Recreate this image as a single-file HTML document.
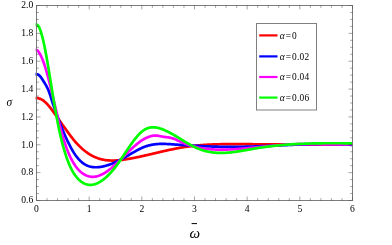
<!DOCTYPE html>
<html><head><meta charset="utf-8"><title>plot</title>
<style>
html,body{margin:0;padding:0;background:#fff;}
.ls{font-family:"Liberation Serif",serif;}
body{width:392px;height:245px;overflow:hidden;position:relative;font-family:"Liberation Serif",serif;}
</style></head><body>
<svg width="392" height="245" viewBox="0 0 392 245" style="position:absolute;left:0;top:0;will-change:transform;opacity:0.999">
<path d="M35.60,98.10 L36.50,98.10 L37.13,98.12 L37.77,98.18 L38.40,98.29 L39.03,98.44 L39.67,98.63 L40.30,98.86 L40.93,99.14 L41.57,99.46 L42.20,99.82 L42.83,100.22 L43.47,100.67 L44.10,101.16 L44.73,101.69 L45.37,102.25 L46.00,102.86 L46.63,103.50 L47.27,104.17 L47.90,104.87 L48.53,105.59 L49.17,106.35 L49.80,107.13 L50.43,107.92 L51.07,108.74 L51.70,109.58 L52.33,110.43 L52.96,111.29 L53.60,112.17 L54.23,113.05 L54.86,113.94 L55.50,114.84 L56.13,115.74 L56.76,116.63 L57.40,117.53 L58.03,118.43 L58.66,119.32 L59.30,120.22 L59.93,121.11 L60.56,122.01 L61.20,122.90 L61.83,123.79 L62.46,124.68 L63.10,125.57 L63.73,126.46 L64.36,127.35 L65.00,128.24 L65.63,129.12 L66.26,130.01 L66.90,130.89 L67.53,131.77 L68.16,132.64 L68.80,133.51 L69.43,134.37 L70.06,135.22 L70.70,136.06 L71.33,136.89 L71.96,137.70 L72.60,138.50 L73.23,139.29 L73.86,140.06 L74.50,140.81 L75.13,141.55 L75.76,142.27 L76.40,142.98 L77.03,143.67 L77.66,144.34 L78.30,145.00 L78.93,145.65 L79.56,146.28 L80.20,146.89 L80.83,147.49 L81.46,148.08 L82.10,148.65 L82.73,149.20 L83.36,149.74 L83.99,150.27 L84.63,150.78 L85.26,151.27 L85.89,151.76 L86.53,152.22 L87.16,152.68 L87.79,153.12 L88.43,153.54 L89.06,153.95 L89.69,154.35 L90.33,154.73 L90.96,155.10 L91.59,155.46 L92.23,155.80 L92.86,156.13 L93.49,156.44 L94.13,156.74 L94.76,157.03 L95.39,157.30 L96.03,157.56 L96.66,157.81 L97.29,158.05 L97.93,158.27 L98.56,158.49 L99.19,158.69 L99.83,158.87 L100.46,159.05 L101.09,159.22 L101.73,159.37 L102.36,159.52 L102.99,159.65 L103.63,159.77 L104.26,159.89 L104.89,159.99 L105.53,160.08 L106.16,160.17 L106.79,160.24 L107.43,160.31 L108.06,160.37 L108.69,160.42 L109.33,160.46 L109.96,160.49 L110.59,160.52 L111.23,160.53 L111.86,160.54 L112.49,160.54 L113.13,160.54 L113.76,160.53 L114.39,160.51 L115.03,160.49 L115.66,160.46 L116.29,160.42 L116.92,160.38 L117.56,160.33 L118.19,160.28 L118.82,160.22 L119.46,160.16 L120.09,160.09 L120.72,160.02 L121.36,159.95 L121.99,159.87 L122.62,159.79 L123.26,159.70 L123.89,159.61 L124.52,159.52 L125.16,159.42 L125.79,159.33 L126.42,159.23 L127.06,159.12 L127.69,159.02 L128.32,158.91 L128.96,158.81 L129.59,158.70 L130.22,158.58 L130.86,158.47 L131.49,158.35 L132.12,158.24 L132.76,158.12 L133.39,158.00 L134.02,157.87 L134.66,157.75 L135.29,157.62 L135.92,157.50 L136.56,157.37 L137.19,157.24 L137.82,157.10 L138.46,156.97 L139.09,156.84 L139.72,156.70 L140.36,156.57 L140.99,156.43 L141.62,156.29 L142.26,156.15 L142.89,156.01 L143.52,155.87 L144.16,155.73 L144.79,155.58 L145.42,155.44 L146.06,155.29 L146.69,155.15 L147.32,155.00 L147.95,154.86 L148.59,154.71 L149.22,154.56 L149.85,154.41 L150.49,154.26 L151.12,154.12 L151.75,153.97 L152.39,153.82 L153.02,153.67 L153.65,153.52 L154.29,153.37 L154.92,153.22 L155.55,153.07 L156.19,152.92 L156.82,152.77 L157.45,152.62 L158.09,152.47 L158.72,152.32 L159.35,152.17 L159.99,152.02 L160.62,151.88 L161.25,151.73 L161.89,151.58 L162.52,151.44 L163.15,151.29 L163.79,151.14 L164.42,151.00 L165.05,150.86 L165.69,150.71 L166.32,150.57 L166.95,150.43 L167.59,150.29 L168.22,150.15 L168.85,150.01 L169.49,149.87 L170.12,149.74 L170.75,149.60 L171.39,149.47 L172.02,149.34 L172.65,149.21 L173.29,149.08 L173.92,148.95 L174.55,148.82 L175.19,148.69 L175.82,148.57 L176.45,148.45 L177.09,148.33 L177.72,148.21 L178.35,148.09 L178.98,147.98 L179.62,147.86 L180.25,147.75 L180.88,147.64 L181.52,147.53 L182.15,147.43 L182.78,147.32 L183.42,147.22 L184.05,147.12 L184.68,147.02 L185.32,146.93 L185.95,146.84 L186.58,146.74 L187.22,146.65 L187.85,146.57 L188.48,146.48 L189.12,146.40 L189.75,146.32 L190.38,146.24 L191.02,146.16 L191.65,146.08 L192.28,146.01 L192.92,145.94 L193.55,145.86 L194.18,145.80 L194.82,145.73 L195.45,145.66 L196.08,145.60 L196.72,145.54 L197.35,145.48 L197.98,145.42 L198.62,145.36 L199.25,145.31 L199.88,145.25 L200.52,145.20 L201.15,145.15 L201.78,145.10 L202.42,145.05 L203.05,145.00 L203.68,144.96 L204.32,144.91 L204.95,144.87 L205.58,144.83 L206.22,144.79 L206.85,144.75 L207.48,144.72 L208.12,144.68 L208.75,144.65 L209.38,144.61 L210.02,144.58 L210.65,144.55 L211.28,144.52 L211.91,144.50 L212.55,144.47 L213.18,144.44 L213.81,144.42 L214.45,144.39 L215.08,144.37 L215.71,144.35 L216.35,144.33 L216.98,144.31 L217.61,144.29 L218.25,144.27 L218.88,144.26 L219.51,144.24 L220.15,144.23 L220.78,144.21 L221.41,144.20 L222.05,144.19 L222.68,144.18 L223.31,144.17 L223.95,144.16 L224.58,144.15 L225.21,144.14 L225.85,144.13 L226.48,144.13 L227.11,144.12 L227.75,144.12 L228.38,144.11 L229.01,144.11 L229.65,144.11 L230.28,144.10 L230.91,144.10 L231.55,144.10 L232.18,144.10 L232.81,144.10 L233.45,144.10 L234.08,144.10 L234.71,144.10 L235.35,144.10 L235.98,144.10 L236.61,144.10 L237.25,144.11 L237.88,144.11 L238.51,144.11 L239.15,144.11 L239.78,144.12 L240.41,144.12 L241.05,144.13 L241.68,144.13 L242.31,144.14 L242.94,144.14 L243.58,144.15 L244.21,144.15 L244.84,144.16 L245.48,144.16 L246.11,144.17 L246.74,144.17 L247.38,144.18 L248.01,144.18 L248.64,144.19 L249.28,144.19 L249.91,144.20 L250.54,144.20 L251.18,144.21 L251.81,144.21 L252.44,144.22 L253.08,144.23 L253.71,144.23 L254.34,144.24 L254.98,144.24 L255.61,144.25 L256.24,144.25 L256.88,144.26 L257.51,144.26 L258.14,144.27 L258.78,144.27 L259.41,144.28 L260.04,144.28 L260.68,144.29 L261.31,144.29 L261.94,144.30 L262.58,144.30 L263.21,144.31 L263.84,144.31 L264.48,144.32 L265.11,144.32 L265.74,144.32 L266.38,144.33 L267.01,144.33 L267.64,144.34 L268.28,144.34 L268.91,144.35 L269.54,144.35 L270.18,144.36 L270.81,144.36 L271.44,144.37 L272.08,144.37 L272.71,144.37 L273.34,144.38 L273.97,144.38 L274.61,144.39 L275.24,144.39 L275.87,144.40 L276.51,144.40 L277.14,144.40 L277.77,144.41 L278.41,144.41 L279.04,144.42 L279.67,144.42 L280.31,144.42 L280.94,144.43 L281.57,144.43 L282.21,144.44 L282.84,144.44 L283.47,144.44 L284.11,144.45 L284.74,144.45 L285.37,144.46 L286.01,144.46 L286.64,144.46 L287.27,144.47 L287.91,144.47 L288.54,144.47 L289.17,144.48 L289.81,144.48 L290.44,144.49 L291.07,144.49 L291.71,144.49 L292.34,144.50 L292.97,144.50 L293.61,144.50 L294.24,144.51 L294.87,144.51 L295.51,144.51 L296.14,144.52 L296.77,144.52 L297.41,144.52 L298.04,144.53 L298.67,144.53 L299.31,144.53 L299.94,144.54 L300.57,144.54 L301.21,144.54 L301.84,144.55 L302.47,144.55 L303.11,144.55 L303.74,144.55 L304.37,144.56 L305.01,144.56 L305.64,144.56 L306.27,144.57 L306.90,144.57 L307.54,144.57 L308.17,144.58 L308.80,144.58 L309.44,144.58 L310.07,144.58 L310.70,144.59 L311.34,144.59 L311.97,144.59 L312.60,144.59 L313.24,144.60 L313.87,144.60 L314.50,144.60 L315.14,144.60 L315.77,144.61 L316.40,144.61 L317.04,144.61 L317.67,144.61 L318.30,144.62 L318.94,144.62 L319.57,144.62 L320.20,144.62 L320.84,144.63 L321.47,144.63 L322.10,144.63 L322.74,144.63 L323.37,144.63 L324.00,144.64 L324.64,144.64 L325.27,144.64 L325.90,144.64 L326.54,144.64 L327.17,144.65 L327.80,144.65 L328.44,144.65 L329.07,144.65 L329.70,144.65 L330.34,144.66 L330.97,144.66 L331.60,144.66 L332.24,144.66 L332.87,144.66 L333.50,144.66 L334.14,144.67 L334.77,144.67 L335.40,144.67 L336.04,144.67 L336.67,144.67 L337.30,144.67 L337.93,144.68 L338.57,144.68 L339.20,144.68 L339.83,144.68 L340.47,144.68 L341.10,144.68 L341.73,144.68 L342.37,144.68 L343.00,144.69 L343.63,144.69 L344.27,144.69 L344.90,144.69 L345.53,144.69 L346.17,144.69 L346.80,144.69 L347.43,144.69 L348.07,144.70 L348.70,144.70 L349.33,144.70 L349.97,144.70 L350.60,144.70 L351.23,144.70 L351.87,144.70 L352.50,144.70" fill="none" stroke="#ff0000" stroke-width="2.7" stroke-linejoin="round" stroke-linecap="butt"/>
<path d="M35.50,74.13 L36.40,74.13 L37.03,74.20 L37.67,74.40 L38.30,74.72 L38.93,75.17 L39.57,75.73 L40.20,76.42 L40.83,77.20 L41.47,78.06 L42.10,78.99 L42.73,79.97 L43.37,80.98 L44.00,82.01 L44.64,83.04 L45.27,84.08 L45.90,85.16 L46.54,86.29 L47.17,87.52 L47.80,88.85 L48.44,90.32 L49.07,91.95 L49.70,93.73 L50.34,95.62 L50.97,97.59 L51.60,99.58 L52.24,101.55 L52.87,103.48 L53.50,105.37 L54.14,107.22 L54.77,109.04 L55.40,110.83 L56.04,112.59 L56.67,114.34 L57.30,116.06 L57.94,117.77 L58.57,119.46 L59.20,121.13 L59.84,122.78 L60.47,124.42 L61.11,126.03 L61.74,127.62 L62.37,129.19 L63.01,130.74 L63.64,132.26 L64.27,133.75 L64.91,135.22 L65.54,136.67 L66.17,138.08 L66.81,139.47 L67.44,140.83 L68.07,142.16 L68.71,143.46 L69.34,144.72 L69.97,145.95 L70.61,147.15 L71.24,148.32 L71.87,149.45 L72.51,150.55 L73.14,151.60 L73.77,152.62 L74.41,153.61 L75.04,154.55 L75.67,155.45 L76.31,156.31 L76.94,157.13 L77.58,157.92 L78.21,158.66 L78.84,159.37 L79.48,160.04 L80.11,160.67 L80.74,161.27 L81.38,161.84 L82.01,162.37 L82.64,162.87 L83.28,163.34 L83.91,163.77 L84.54,164.18 L85.18,164.55 L85.81,164.90 L86.44,165.22 L87.08,165.52 L87.71,165.79 L88.34,166.03 L88.98,166.25 L89.61,166.44 L90.24,166.61 L90.88,166.76 L91.51,166.89 L92.15,167.00 L92.78,167.09 L93.41,167.16 L94.05,167.21 L94.68,167.24 L95.31,167.26 L95.95,167.26 L96.58,167.25 L97.21,167.23 L97.85,167.19 L98.48,167.14 L99.11,167.08 L99.75,167.00 L100.38,166.92 L101.01,166.82 L101.65,166.72 L102.28,166.60 L102.91,166.47 L103.55,166.33 L104.18,166.19 L104.81,166.03 L105.45,165.86 L106.08,165.69 L106.71,165.50 L107.35,165.31 L107.98,165.11 L108.62,164.90 L109.25,164.68 L109.88,164.45 L110.52,164.21 L111.15,163.97 L111.78,163.72 L112.42,163.47 L113.05,163.20 L113.68,162.93 L114.32,162.65 L114.95,162.37 L115.58,162.08 L116.22,161.79 L116.85,161.49 L117.48,161.18 L118.12,160.87 L118.75,160.55 L119.38,160.23 L120.02,159.91 L120.65,159.58 L121.28,159.24 L121.92,158.90 L122.55,158.56 L123.18,158.21 L123.82,157.87 L124.45,157.51 L125.09,157.16 L125.72,156.80 L126.35,156.44 L126.99,156.08 L127.62,155.72 L128.25,155.35 L128.89,154.98 L129.52,154.61 L130.15,154.25 L130.79,153.88 L131.42,153.51 L132.05,153.14 L132.69,152.78 L133.32,152.42 L133.95,152.06 L134.59,151.70 L135.22,151.34 L135.85,150.99 L136.49,150.65 L137.12,150.31 L137.75,149.97 L138.39,149.64 L139.02,149.32 L139.66,149.00 L140.29,148.69 L140.92,148.39 L141.56,148.10 L142.19,147.81 L142.82,147.54 L143.46,147.27 L144.09,147.01 L144.72,146.77 L145.36,146.53 L145.99,146.31 L146.62,146.10 L147.26,145.90 L147.89,145.71 L148.52,145.53 L149.16,145.36 L149.79,145.21 L150.42,145.06 L151.06,144.93 L151.69,144.80 L152.32,144.69 L152.96,144.58 L153.59,144.48 L154.22,144.39 L154.86,144.31 L155.49,144.24 L156.13,144.17 L156.76,144.11 L157.39,144.06 L158.03,144.02 L158.66,143.98 L159.29,143.95 L159.93,143.93 L160.56,143.91 L161.19,143.90 L161.83,143.89 L162.46,143.89 L163.09,143.90 L163.73,143.90 L164.36,143.92 L164.99,143.93 L165.63,143.95 L166.26,143.98 L166.89,144.00 L167.53,144.03 L168.16,144.07 L168.79,144.10 L169.43,144.14 L170.06,144.18 L170.69,144.22 L171.33,144.26 L171.96,144.30 L172.60,144.35 L173.23,144.39 L173.86,144.44 L174.50,144.48 L175.13,144.53 L175.76,144.57 L176.40,144.62 L177.03,144.66 L177.66,144.70 L178.30,144.75 L178.93,144.79 L179.56,144.83 L180.20,144.88 L180.83,144.92 L181.46,144.96 L182.10,145.00 L182.73,145.04 L183.36,145.08 L184.00,145.13 L184.63,145.17 L185.26,145.21 L185.90,145.25 L186.53,145.29 L187.17,145.33 L187.80,145.37 L188.43,145.40 L189.07,145.44 L189.70,145.48 L190.33,145.52 L190.97,145.56 L191.60,145.59 L192.23,145.63 L192.87,145.67 L193.50,145.70 L194.13,145.74 L194.77,145.77 L195.40,145.81 L196.03,145.84 L196.67,145.87 L197.30,145.91 L197.93,145.94 L198.57,145.97 L199.20,146.01 L199.83,146.04 L200.47,146.07 L201.10,146.10 L201.73,146.13 L202.37,146.16 L203.00,146.19 L203.64,146.22 L204.27,146.24 L204.90,146.27 L205.54,146.30 L206.17,146.33 L206.80,146.35 L207.44,146.38 L208.07,146.40 L208.70,146.43 L209.34,146.45 L209.97,146.47 L210.60,146.50 L211.24,146.52 L211.87,146.54 L212.50,146.56 L213.14,146.58 L213.77,146.60 L214.40,146.62 L215.04,146.64 L215.67,146.66 L216.30,146.68 L216.94,146.69 L217.57,146.71 L218.21,146.72 L218.84,146.74 L219.47,146.75 L220.11,146.77 L220.74,146.78 L221.37,146.79 L222.01,146.80 L222.64,146.82 L223.27,146.83 L223.91,146.83 L224.54,146.84 L225.17,146.85 L225.81,146.86 L226.44,146.87 L227.07,146.87 L227.71,146.88 L228.34,146.88 L228.97,146.88 L229.61,146.89 L230.24,146.89 L230.87,146.89 L231.51,146.89 L232.14,146.89 L232.77,146.89 L233.41,146.89 L234.04,146.89 L234.68,146.88 L235.31,146.88 L235.94,146.87 L236.58,146.87 L237.21,146.86 L237.84,146.85 L238.48,146.85 L239.11,146.84 L239.74,146.83 L240.38,146.82 L241.01,146.81 L241.64,146.80 L242.28,146.79 L242.91,146.77 L243.54,146.76 L244.18,146.75 L244.81,146.73 L245.44,146.72 L246.08,146.70 L246.71,146.69 L247.34,146.67 L247.98,146.66 L248.61,146.64 L249.24,146.62 L249.88,146.60 L250.51,146.58 L251.15,146.56 L251.78,146.54 L252.41,146.52 L253.05,146.50 L253.68,146.48 L254.31,146.46 L254.95,146.44 L255.58,146.42 L256.21,146.39 L256.85,146.37 L257.48,146.35 L258.11,146.32 L258.75,146.30 L259.38,146.27 L260.01,146.25 L260.65,146.22 L261.28,146.20 L261.91,146.17 L262.55,146.15 L263.18,146.12 L263.81,146.09 L264.45,146.07 L265.08,146.04 L265.72,146.01 L266.35,145.98 L266.98,145.96 L267.62,145.93 L268.25,145.90 L268.88,145.87 L269.52,145.84 L270.15,145.82 L270.78,145.79 L271.42,145.76 L272.05,145.73 L272.68,145.70 L273.32,145.67 L273.95,145.64 L274.58,145.61 L275.22,145.58 L275.85,145.55 L276.48,145.52 L277.12,145.49 L277.75,145.47 L278.38,145.44 L279.02,145.41 L279.65,145.38 L280.28,145.35 L280.92,145.32 L281.55,145.29 L282.19,145.26 L282.82,145.23 L283.45,145.20 L284.09,145.17 L284.72,145.14 L285.35,145.11 L285.99,145.09 L286.62,145.06 L287.25,145.03 L287.89,145.00 L288.52,144.97 L289.15,144.94 L289.79,144.92 L290.42,144.89 L291.05,144.86 L291.69,144.83 L292.32,144.81 L292.95,144.78 L293.59,144.75 L294.22,144.73 L294.85,144.70 L295.49,144.68 L296.12,144.65 L296.75,144.63 L297.39,144.60 L298.02,144.58 L298.66,144.55 L299.29,144.53 L299.92,144.51 L300.56,144.48 L301.19,144.46 L301.82,144.44 L302.46,144.42 L303.09,144.40 L303.72,144.38 L304.36,144.36 L304.99,144.34 L305.62,144.32 L306.26,144.30 L306.89,144.28 L307.52,144.26 L308.16,144.24 L308.79,144.23 L309.42,144.21 L310.06,144.19 L310.69,144.18 L311.32,144.16 L311.96,144.15 L312.59,144.14 L313.23,144.12 L313.86,144.11 L314.49,144.10 L315.13,144.09 L315.76,144.08 L316.39,144.07 L317.03,144.06 L317.66,144.05 L318.29,144.04 L318.93,144.03 L319.56,144.03 L320.19,144.02 L320.83,144.02 L321.46,144.01 L322.09,144.01 L322.73,144.01 L323.36,144.01 L323.99,144.00 L324.63,144.00 L325.26,144.00 L325.89,144.01 L326.53,144.01 L327.16,144.01 L327.79,144.01 L328.43,144.02 L329.06,144.02 L329.70,144.03 L330.33,144.04 L330.96,144.05 L331.60,144.05 L332.23,144.06 L332.86,144.08 L333.50,144.09 L334.13,144.10 L334.76,144.11 L335.40,144.13 L336.03,144.14 L336.66,144.16 L337.30,144.18 L337.93,144.20 L338.56,144.22 L339.20,144.24 L339.83,144.26 L340.46,144.28 L341.10,144.31 L341.73,144.33 L342.36,144.36 L343.00,144.39 L343.63,144.41 L344.26,144.44 L344.90,144.47 L345.53,144.51 L346.17,144.54 L346.80,144.57 L347.43,144.61 L348.07,144.65 L348.70,144.68 L349.33,144.72 L349.97,144.76 L350.60,144.80 L351.23,144.85 L351.87,144.89 L352.50,144.94" fill="none" stroke="#0000ff" stroke-width="2.7" stroke-linejoin="round" stroke-linecap="butt"/>
<path d="M35.60,49.91 L36.50,49.91 L37.13,50.17 L37.77,50.78 L38.40,51.55 L39.03,52.44 L39.67,53.45 L40.30,54.59 L40.93,55.84 L41.57,57.20 L42.20,58.67 L42.83,60.26 L43.47,61.94 L44.10,63.73 L44.73,65.63 L45.37,67.61 L46.00,69.69 L46.63,71.87 L47.27,74.13 L47.90,76.46 L48.53,78.87 L49.17,81.34 L49.80,83.87 L50.43,86.45 L51.07,89.07 L51.70,91.72 L52.33,94.40 L52.96,97.10 L53.60,99.82 L54.23,102.54 L54.86,105.26 L55.50,107.98 L56.13,110.69 L56.76,113.37 L57.40,116.03 L58.03,118.66 L58.66,121.25 L59.30,123.79 L59.93,126.28 L60.56,128.71 L61.20,131.07 L61.83,133.36 L62.46,135.58 L63.10,137.71 L63.73,139.77 L64.36,141.75 L65.00,143.66 L65.63,145.50 L66.26,147.27 L66.90,148.97 L67.53,150.60 L68.16,152.17 L68.80,153.67 L69.43,155.11 L70.06,156.49 L70.70,157.80 L71.33,159.06 L71.96,160.27 L72.60,161.41 L73.23,162.51 L73.86,163.55 L74.50,164.54 L75.13,165.48 L75.76,166.37 L76.40,167.22 L77.03,168.02 L77.66,168.78 L78.30,169.49 L78.93,170.17 L79.56,170.81 L80.20,171.41 L80.83,171.97 L81.46,172.50 L82.10,172.99 L82.73,173.46 L83.36,173.89 L83.99,174.29 L84.63,174.65 L85.26,174.99 L85.89,175.30 L86.53,175.58 L87.16,175.83 L87.79,176.04 L88.43,176.24 L89.06,176.40 L89.69,176.54 L90.33,176.65 L90.96,176.73 L91.59,176.79 L92.23,176.82 L92.86,176.82 L93.49,176.80 L94.13,176.76 L94.76,176.70 L95.39,176.61 L96.03,176.49 L96.66,176.36 L97.29,176.20 L97.93,176.03 L98.56,175.83 L99.19,175.61 L99.83,175.37 L100.46,175.11 L101.09,174.84 L101.73,174.54 L102.36,174.23 L102.99,173.90 L103.63,173.55 L104.26,173.18 L104.89,172.80 L105.53,172.40 L106.16,171.99 L106.79,171.56 L107.43,171.12 L108.06,170.67 L108.69,170.20 L109.33,169.71 L109.96,169.22 L110.59,168.71 L111.23,168.20 L111.86,167.67 L112.49,167.13 L113.13,166.58 L113.76,166.02 L114.39,165.46 L115.03,164.88 L115.66,164.30 L116.29,163.71 L116.92,163.11 L117.56,162.51 L118.19,161.91 L118.82,161.29 L119.46,160.68 L120.09,160.06 L120.72,159.43 L121.36,158.81 L121.99,158.18 L122.62,157.55 L123.26,156.92 L123.89,156.29 L124.52,155.66 L125.16,155.02 L125.79,154.39 L126.42,153.76 L127.06,153.14 L127.69,152.51 L128.32,151.89 L128.96,151.28 L129.59,150.66 L130.22,150.05 L130.86,149.45 L131.49,148.85 L132.12,148.26 L132.76,147.68 L133.39,147.10 L134.02,146.54 L134.66,145.98 L135.29,145.43 L135.92,144.88 L136.56,144.35 L137.19,143.83 L137.82,143.32 L138.46,142.83 L139.09,142.34 L139.72,141.87 L140.36,141.41 L140.99,140.97 L141.62,140.54 L142.26,140.12 L142.89,139.72 L143.52,139.34 L144.16,138.97 L144.79,138.62 L145.42,138.29 L146.06,137.97 L146.69,137.67 L147.32,137.39 L147.95,137.13 L148.59,136.89 L149.22,136.66 L149.85,136.46 L150.49,136.28 L151.12,136.11 L151.75,135.97 L152.39,135.85 L153.02,135.75 L153.65,135.68 L154.29,135.62 L154.92,135.59 L155.55,135.58 L156.19,135.60 L156.82,135.64 L157.45,135.70 L158.09,135.79 L158.72,135.90 L159.35,136.02 L159.99,136.15 L160.62,136.29 L161.25,136.42 L161.89,136.55 L162.52,136.67 L163.15,136.77 L163.79,136.86 L164.42,136.94 L165.05,137.02 L165.69,137.09 L166.32,137.15 L166.95,137.22 L167.59,137.30 L168.22,137.38 L168.85,137.47 L169.49,137.58 L170.12,137.70 L170.75,137.85 L171.39,138.01 L172.02,138.20 L172.65,138.40 L173.29,138.61 L173.92,138.84 L174.55,139.08 L175.19,139.33 L175.82,139.59 L176.45,139.86 L177.09,140.14 L177.72,140.42 L178.35,140.71 L178.98,140.99 L179.62,141.28 L180.25,141.57 L180.88,141.86 L181.52,142.14 L182.15,142.42 L182.78,142.70 L183.42,142.97 L184.05,143.23 L184.68,143.48 L185.32,143.73 L185.95,143.97 L186.58,144.21 L187.22,144.44 L187.85,144.66 L188.48,144.88 L189.12,145.09 L189.75,145.30 L190.38,145.50 L191.02,145.69 L191.65,145.88 L192.28,146.07 L192.92,146.24 L193.55,146.41 L194.18,146.58 L194.82,146.74 L195.45,146.90 L196.08,147.05 L196.72,147.20 L197.35,147.34 L197.98,147.47 L198.62,147.60 L199.25,147.73 L199.88,147.85 L200.52,147.97 L201.15,148.08 L201.78,148.19 L202.42,148.29 L203.05,148.39 L203.68,148.48 L204.32,148.57 L204.95,148.66 L205.58,148.74 L206.22,148.82 L206.85,148.89 L207.48,148.96 L208.12,149.03 L208.75,149.09 L209.38,149.15 L210.02,149.20 L210.65,149.25 L211.28,149.30 L211.91,149.34 L212.55,149.39 L213.18,149.42 L213.81,149.46 L214.45,149.49 L215.08,149.52 L215.71,149.54 L216.35,149.56 L216.98,149.58 L217.61,149.60 L218.25,149.61 L218.88,149.63 L219.51,149.63 L220.15,149.64 L220.78,149.64 L221.41,149.65 L222.05,149.64 L222.68,149.64 L223.31,149.64 L223.95,149.63 L224.58,149.62 L225.21,149.61 L225.85,149.60 L226.48,149.58 L227.11,149.56 L227.75,149.54 L228.38,149.52 L229.01,149.50 L229.65,149.48 L230.28,149.45 L230.91,149.42 L231.55,149.40 L232.18,149.37 L232.81,149.33 L233.45,149.30 L234.08,149.26 L234.71,149.23 L235.35,149.19 L235.98,149.15 L236.61,149.11 L237.25,149.07 L237.88,149.02 L238.51,148.98 L239.15,148.93 L239.78,148.89 L240.41,148.84 L241.05,148.79 L241.68,148.74 L242.31,148.69 L242.94,148.64 L243.58,148.58 L244.21,148.53 L244.84,148.47 L245.48,148.42 L246.11,148.36 L246.74,148.30 L247.38,148.25 L248.01,148.19 L248.64,148.13 L249.28,148.07 L249.91,148.01 L250.54,147.95 L251.18,147.88 L251.81,147.82 L252.44,147.76 L253.08,147.70 L253.71,147.63 L254.34,147.57 L254.98,147.50 L255.61,147.44 L256.24,147.37 L256.88,147.31 L257.51,147.24 L258.14,147.18 L258.78,147.11 L259.41,147.04 L260.04,146.98 L260.68,146.91 L261.31,146.85 L261.94,146.78 L262.58,146.71 L263.21,146.65 L263.84,146.58 L264.48,146.52 L265.11,146.45 L265.74,146.39 L266.38,146.32 L267.01,146.26 L267.64,146.19 L268.28,146.13 L268.91,146.07 L269.54,146.00 L270.18,145.94 L270.81,145.88 L271.44,145.82 L272.08,145.76 L272.71,145.70 L273.34,145.64 L273.97,145.58 L274.61,145.52 L275.24,145.47 L275.87,145.41 L276.51,145.35 L277.14,145.30 L277.77,145.25 L278.41,145.19 L279.04,145.14 L279.67,145.09 L280.31,145.04 L280.94,144.99 L281.57,144.94 L282.21,144.90 L282.84,144.85 L283.47,144.81 L284.11,144.76 L284.74,144.72 L285.37,144.68 L286.01,144.64 L286.64,144.61 L287.27,144.57 L287.91,144.54 L288.54,144.50 L289.17,144.47 L289.81,144.44 L290.44,144.41 L291.07,144.39 L291.71,144.36 L292.34,144.34 L292.97,144.31 L293.61,144.29 L294.24,144.27 L294.87,144.26 L295.51,144.24 L296.14,144.22 L296.77,144.21 L297.41,144.20 L298.04,144.19 L298.67,144.18 L299.31,144.17 L299.94,144.16 L300.57,144.15 L301.21,144.15 L301.84,144.14 L302.47,144.14 L303.11,144.13 L303.74,144.13 L304.37,144.13 L305.01,144.13 L305.64,144.13 L306.27,144.13 L306.90,144.13 L307.54,144.14 L308.17,144.14 L308.80,144.14 L309.44,144.15 L310.07,144.16 L310.70,144.16 L311.34,144.17 L311.97,144.17 L312.60,144.18 L313.24,144.19 L313.87,144.20 L314.50,144.21 L315.14,144.22 L315.77,144.23 L316.40,144.24 L317.04,144.25 L317.67,144.26 L318.30,144.27 L318.94,144.28 L319.57,144.29 L320.20,144.30 L320.84,144.31 L321.47,144.32 L322.10,144.33 L322.74,144.34 L323.37,144.35 L324.00,144.36 L324.64,144.37 L325.27,144.38 L325.90,144.39 L326.54,144.40 L327.17,144.41 L327.80,144.42 L328.44,144.43 L329.07,144.44 L329.70,144.45 L330.34,144.46 L330.97,144.46 L331.60,144.47 L332.24,144.48 L332.87,144.48 L333.50,144.49 L334.14,144.49 L334.77,144.50 L335.40,144.50 L336.04,144.50 L336.67,144.50 L337.30,144.50 L337.93,144.50 L338.57,144.50 L339.20,144.50 L339.83,144.50 L340.47,144.49 L341.10,144.49 L341.73,144.48 L342.37,144.48 L343.00,144.47 L343.63,144.46 L344.27,144.45 L344.90,144.44 L345.53,144.43 L346.17,144.41 L346.80,144.40 L347.43,144.38 L348.07,144.37 L348.70,144.35 L349.33,144.33 L349.97,144.30 L350.60,144.28 L351.23,144.26 L351.87,144.23 L352.50,144.20" fill="none" stroke="#ff00ff" stroke-width="2.7" stroke-linejoin="round" stroke-linecap="butt"/>
<path d="M35.60,24.58 L36.50,24.58 L37.13,24.79 L37.77,25.30 L38.40,26.10 L39.03,27.18 L39.67,28.53 L40.30,30.13 L40.93,31.97 L41.57,34.05 L42.20,36.34 L42.83,38.85 L43.47,41.55 L44.10,44.43 L44.73,47.48 L45.37,50.70 L46.00,54.06 L46.63,57.56 L47.27,61.17 L47.90,64.88 L48.53,68.67 L49.17,72.53 L49.80,76.43 L50.43,80.36 L51.07,84.30 L51.70,88.24 L52.33,92.16 L52.96,96.04 L53.60,99.86 L54.23,103.61 L54.86,107.28 L55.50,110.87 L56.13,114.37 L56.76,117.78 L57.40,121.09 L58.03,124.30 L58.66,127.41 L59.30,130.41 L59.93,133.31 L60.56,136.09 L61.20,138.76 L61.83,141.34 L62.46,143.80 L63.10,146.17 L63.73,148.44 L64.36,150.62 L65.00,152.70 L65.63,154.69 L66.26,156.60 L66.90,158.42 L67.53,160.15 L68.16,161.80 L68.80,163.38 L69.43,164.87 L70.06,166.30 L70.70,167.65 L71.33,168.93 L71.96,170.14 L72.60,171.29 L73.23,172.37 L73.86,173.40 L74.50,174.37 L75.13,175.28 L75.76,176.13 L76.40,176.94 L77.03,177.70 L77.66,178.41 L78.30,179.07 L78.93,179.70 L79.56,180.28 L80.20,180.83 L80.83,181.34 L81.46,181.81 L82.10,182.25 L82.73,182.65 L83.36,183.01 L83.99,183.34 L84.63,183.64 L85.26,183.90 L85.89,184.13 L86.53,184.33 L87.16,184.49 L87.79,184.62 L88.43,184.73 L89.06,184.80 L89.69,184.84 L90.33,184.85 L90.96,184.84 L91.59,184.80 L92.23,184.72 L92.86,184.63 L93.49,184.50 L94.13,184.35 L94.76,184.17 L95.39,183.97 L96.03,183.75 L96.66,183.50 L97.29,183.22 L97.93,182.93 L98.56,182.61 L99.19,182.27 L99.83,181.91 L100.46,181.53 L101.09,181.13 L101.73,180.71 L102.36,180.27 L102.99,179.81 L103.63,179.33 L104.26,178.83 L104.89,178.31 L105.53,177.78 L106.16,177.22 L106.79,176.65 L107.43,176.05 L108.06,175.44 L108.69,174.81 L109.33,174.17 L109.96,173.50 L110.59,172.82 L111.23,172.12 L111.86,171.40 L112.49,170.67 L113.13,169.92 L113.76,169.15 L114.39,168.37 L115.03,167.57 L115.66,166.75 L116.29,165.92 L116.92,165.07 L117.56,164.21 L118.19,163.33 L118.82,162.44 L119.46,161.53 L120.09,160.62 L120.72,159.69 L121.36,158.76 L121.99,157.82 L122.62,156.87 L123.26,155.92 L123.89,154.97 L124.52,154.01 L125.16,153.05 L125.79,152.10 L126.42,151.14 L127.06,150.19 L127.69,149.24 L128.32,148.29 L128.96,147.36 L129.59,146.43 L130.22,145.50 L130.86,144.59 L131.49,143.69 L132.12,142.80 L132.76,141.93 L133.39,141.07 L134.02,140.23 L134.66,139.40 L135.29,138.59 L135.92,137.81 L136.56,137.04 L137.19,136.29 L137.82,135.57 L138.46,134.88 L139.09,134.21 L139.72,133.56 L140.36,132.95 L140.99,132.36 L141.62,131.81 L142.26,131.29 L142.89,130.80 L143.52,130.34 L144.16,129.92 L144.79,129.54 L145.42,129.19 L146.06,128.87 L146.69,128.58 L147.32,128.33 L147.95,128.10 L148.59,127.90 L149.22,127.74 L149.85,127.60 L150.49,127.48 L151.12,127.40 L151.75,127.34 L152.39,127.30 L153.02,127.29 L153.65,127.30 L154.29,127.33 L154.92,127.38 L155.55,127.45 L156.19,127.54 L156.82,127.65 L157.45,127.78 L158.09,127.93 L158.72,128.09 L159.35,128.27 L159.99,128.46 L160.62,128.66 L161.25,128.88 L161.89,129.11 L162.52,129.35 L163.15,129.60 L163.79,129.85 L164.42,130.12 L165.05,130.40 L165.69,130.69 L166.32,130.98 L166.95,131.28 L167.59,131.59 L168.22,131.91 L168.85,132.23 L169.49,132.56 L170.12,132.90 L170.75,133.24 L171.39,133.59 L172.02,133.94 L172.65,134.29 L173.29,134.66 L173.92,135.02 L174.55,135.39 L175.19,135.76 L175.82,136.14 L176.45,136.52 L177.09,136.90 L177.72,137.28 L178.35,137.66 L178.98,138.05 L179.62,138.44 L180.25,138.82 L180.88,139.21 L181.52,139.60 L182.15,139.99 L182.78,140.37 L183.42,140.76 L184.05,141.14 L184.68,141.53 L185.32,141.91 L185.95,142.29 L186.58,142.66 L187.22,143.03 L187.85,143.40 L188.48,143.77 L189.12,144.13 L189.75,144.49 L190.38,144.84 L191.02,145.18 L191.65,145.53 L192.28,145.86 L192.92,146.19 L193.55,146.51 L194.18,146.83 L194.82,147.14 L195.45,147.44 L196.08,147.73 L196.72,148.02 L197.35,148.30 L197.98,148.56 L198.62,148.82 L199.25,149.07 L199.88,149.31 L200.52,149.55 L201.15,149.77 L201.78,149.98 L202.42,150.19 L203.05,150.39 L203.68,150.57 L204.32,150.75 L204.95,150.93 L205.58,151.09 L206.22,151.25 L206.85,151.39 L207.48,151.53 L208.12,151.67 L208.75,151.79 L209.38,151.91 L210.02,152.02 L210.65,152.12 L211.28,152.22 L211.91,152.31 L212.55,152.39 L213.18,152.47 L213.81,152.54 L214.45,152.60 L215.08,152.66 L215.71,152.71 L216.35,152.75 L216.98,152.79 L217.61,152.82 L218.25,152.85 L218.88,152.87 L219.51,152.89 L220.15,152.90 L220.78,152.90 L221.41,152.90 L222.05,152.90 L222.68,152.89 L223.31,152.87 L223.95,152.85 L224.58,152.83 L225.21,152.80 L225.85,152.76 L226.48,152.73 L227.11,152.69 L227.75,152.64 L228.38,152.59 L229.01,152.54 L229.65,152.48 L230.28,152.42 L230.91,152.36 L231.55,152.29 L232.18,152.22 L232.81,152.14 L233.45,152.07 L234.08,151.99 L234.71,151.91 L235.35,151.82 L235.98,151.73 L236.61,151.64 L237.25,151.55 L237.88,151.46 L238.51,151.36 L239.15,151.26 L239.78,151.16 L240.41,151.06 L241.05,150.96 L241.68,150.85 L242.31,150.75 L242.94,150.64 L243.58,150.53 L244.21,150.42 L244.84,150.31 L245.48,150.20 L246.11,150.09 L246.74,149.98 L247.38,149.86 L248.01,149.75 L248.64,149.64 L249.28,149.52 L249.91,149.41 L250.54,149.30 L251.18,149.19 L251.81,149.07 L252.44,148.96 L253.08,148.85 L253.71,148.74 L254.34,148.63 L254.98,148.52 L255.61,148.41 L256.24,148.31 L256.88,148.20 L257.51,148.10 L258.14,147.99 L258.78,147.89 L259.41,147.79 L260.04,147.70 L260.68,147.60 L261.31,147.50 L261.94,147.41 L262.58,147.32 L263.21,147.22 L263.84,147.13 L264.48,147.05 L265.11,146.96 L265.74,146.87 L266.38,146.79 L267.01,146.70 L267.64,146.62 L268.28,146.54 L268.91,146.46 L269.54,146.38 L270.18,146.30 L270.81,146.23 L271.44,146.15 L272.08,146.08 L272.71,146.01 L273.34,145.93 L273.97,145.86 L274.61,145.80 L275.24,145.73 L275.87,145.66 L276.51,145.59 L277.14,145.53 L277.77,145.47 L278.41,145.40 L279.04,145.34 L279.67,145.28 L280.31,145.22 L280.94,145.17 L281.57,145.11 L282.21,145.05 L282.84,145.00 L283.47,144.95 L284.11,144.89 L284.74,144.84 L285.37,144.79 L286.01,144.74 L286.64,144.69 L287.27,144.65 L287.91,144.60 L288.54,144.55 L289.17,144.51 L289.81,144.46 L290.44,144.42 L291.07,144.38 L291.71,144.34 L292.34,144.30 L292.97,144.26 L293.61,144.22 L294.24,144.18 L294.87,144.15 L295.51,144.11 L296.14,144.08 L296.77,144.04 L297.41,144.01 L298.04,143.98 L298.67,143.95 L299.31,143.92 L299.94,143.89 L300.57,143.86 L301.21,143.83 L301.84,143.80 L302.47,143.78 L303.11,143.75 L303.74,143.73 L304.37,143.70 L305.01,143.68 L305.64,143.65 L306.27,143.63 L306.90,143.61 L307.54,143.59 L308.17,143.57 L308.80,143.55 L309.44,143.53 L310.07,143.51 L310.70,143.50 L311.34,143.48 L311.97,143.46 L312.60,143.45 L313.24,143.43 L313.87,143.42 L314.50,143.41 L315.14,143.39 L315.77,143.38 L316.40,143.37 L317.04,143.36 L317.67,143.35 L318.30,143.34 L318.94,143.33 L319.57,143.32 L320.20,143.31 L320.84,143.30 L321.47,143.29 L322.10,143.29 L322.74,143.28 L323.37,143.27 L324.00,143.27 L324.64,143.26 L325.27,143.26 L325.90,143.25 L326.54,143.25 L327.17,143.25 L327.80,143.24 L328.44,143.24 L329.07,143.24 L329.70,143.24 L330.34,143.24 L330.97,143.23 L331.60,143.23 L332.24,143.23 L332.87,143.23 L333.50,143.23 L334.14,143.23 L334.77,143.24 L335.40,143.24 L336.04,143.24 L336.67,143.24 L337.30,143.24 L337.93,143.24 L338.57,143.25 L339.20,143.25 L339.83,143.25 L340.47,143.26 L341.10,143.26 L341.73,143.26 L342.37,143.27 L343.00,143.27 L343.63,143.28 L344.27,143.28 L344.90,143.29 L345.53,143.29 L346.17,143.29 L346.80,143.30 L347.43,143.31 L348.07,143.31 L348.70,143.32 L349.33,143.32 L349.97,143.33 L350.60,143.33 L351.23,143.34 L351.87,143.35 L352.50,143.35" fill="none" stroke="#00ff00" stroke-width="2.7" stroke-linejoin="round" stroke-linecap="butt"/>
<g stroke="#7c7c7c" stroke-opacity="1" stroke-width="1" fill="none">
<rect x="36.5" y="5.5" width="316.0" height="195.0"/>
</g>
<path d="M47.03,200.5 v-2.4 M47.03,5.5 v2.4 M57.57,200.5 v-2.4 M57.57,5.5 v2.4 M68.10,200.5 v-2.4 M68.10,5.5 v2.4 M78.63,200.5 v-2.4 M78.63,5.5 v2.4 M89.17,200.5 v-4 M89.17,5.5 v4 M99.70,200.5 v-2.4 M99.70,5.5 v2.4 M110.23,200.5 v-2.4 M110.23,5.5 v2.4 M120.77,200.5 v-2.4 M120.77,5.5 v2.4 M131.30,200.5 v-2.4 M131.30,5.5 v2.4 M141.83,200.5 v-4 M141.83,5.5 v4 M152.37,200.5 v-2.4 M152.37,5.5 v2.4 M162.90,200.5 v-2.4 M162.90,5.5 v2.4 M173.43,200.5 v-2.4 M173.43,5.5 v2.4 M183.97,200.5 v-2.4 M183.97,5.5 v2.4 M194.50,200.5 v-4 M194.50,5.5 v4 M205.03,200.5 v-2.4 M205.03,5.5 v2.4 M215.57,200.5 v-2.4 M215.57,5.5 v2.4 M226.10,200.5 v-2.4 M226.10,5.5 v2.4 M236.63,200.5 v-2.4 M236.63,5.5 v2.4 M247.17,200.5 v-4 M247.17,5.5 v4 M257.70,200.5 v-2.4 M257.70,5.5 v2.4 M268.23,200.5 v-2.4 M268.23,5.5 v2.4 M278.77,200.5 v-2.4 M278.77,5.5 v2.4 M289.30,200.5 v-2.4 M289.30,5.5 v2.4 M299.83,200.5 v-4 M299.83,5.5 v4 M310.37,200.5 v-2.4 M310.37,5.5 v2.4 M320.90,200.5 v-2.4 M320.90,5.5 v2.4 M331.43,200.5 v-2.4 M331.43,5.5 v2.4 M341.97,200.5 v-2.4 M341.97,5.5 v2.4 M36.5,193.54 h2.4 M352.5,193.54 h-2.4 M36.5,186.57 h2.4 M352.5,186.57 h-2.4 M36.5,179.61 h2.4 M352.5,179.61 h-2.4 M36.5,172.64 h4 M352.5,172.64 h-4 M36.5,165.68 h2.4 M352.5,165.68 h-2.4 M36.5,158.71 h2.4 M352.5,158.71 h-2.4 M36.5,151.75 h2.4 M352.5,151.75 h-2.4 M36.5,144.79 h4 M352.5,144.79 h-4 M36.5,137.82 h2.4 M352.5,137.82 h-2.4 M36.5,130.86 h2.4 M352.5,130.86 h-2.4 M36.5,123.89 h2.4 M352.5,123.89 h-2.4 M36.5,116.93 h4 M352.5,116.93 h-4 M36.5,109.96 h2.4 M352.5,109.96 h-2.4 M36.5,103.00 h2.4 M352.5,103.00 h-2.4 M36.5,96.04 h2.4 M352.5,96.04 h-2.4 M36.5,89.07 h4 M352.5,89.07 h-4 M36.5,82.11 h2.4 M352.5,82.11 h-2.4 M36.5,75.14 h2.4 M352.5,75.14 h-2.4 M36.5,68.18 h2.4 M352.5,68.18 h-2.4 M36.5,61.21 h4 M352.5,61.21 h-4 M36.5,54.25 h2.4 M352.5,54.25 h-2.4 M36.5,47.29 h2.4 M352.5,47.29 h-2.4 M36.5,40.32 h2.4 M352.5,40.32 h-2.4 M36.5,33.36 h4 M352.5,33.36 h-4 M36.5,26.39 h2.4 M352.5,26.39 h-2.4 M36.5,19.43 h2.4 M352.5,19.43 h-2.4 M36.5,12.46 h2.4 M352.5,12.46 h-2.4" stroke="#000" stroke-opacity="0.5" stroke-width="0.7" fill="none"/>
<path d="M36.50,200.5 v-4 M36.50,5.5 v4 M352.50,200.5 v-4 M352.50,5.5 v4 M36.5,200.50 h4 M352.5,200.50 h-4 M36.5,5.50 h4 M352.5,5.50 h-4" stroke="#000" stroke-opacity="0.25" stroke-width="0.7" fill="none"/>
<g class="ls" font-size="9.6" fill="#000">
<text x="36.50" y="211.8" text-anchor="middle">0</text>
<text x="89.17" y="211.8" text-anchor="middle">1</text>
<text x="141.83" y="211.8" text-anchor="middle">2</text>
<text x="194.50" y="211.8" text-anchor="middle">3</text>
<text x="247.17" y="211.8" text-anchor="middle">4</text>
<text x="299.83" y="211.8" text-anchor="middle">5</text>
<text x="352.50" y="211.8" text-anchor="middle">6</text>
<text x="33.2" y="203.30" text-anchor="end">0.6</text>
<text x="33.2" y="175.44" text-anchor="end">0.8</text>
<text x="33.2" y="147.59" text-anchor="end">1.0</text>
<text x="33.2" y="119.73" text-anchor="end">1.2</text>
<text x="33.2" y="91.87" text-anchor="end">1.4</text>
<text x="33.2" y="64.01" text-anchor="end">1.6</text>
<text x="33.2" y="36.16" text-anchor="end">1.8</text>
<text x="33.2" y="8.30" text-anchor="end">2.0</text>
</g>
<text x="6.5" y="106.2" class="ls" font-style="italic" font-size="11.5" fill="#000">σ</text>
<text x="189.6" y="237.6" class="ls" font-style="italic" font-size="15" fill="#000">ω</text>
<path d="M191.6,223.6 h5.4" stroke="#000" stroke-width="1" fill="none"/>
<rect x="256.5" y="23.5" width="60" height="86.5" fill="#fff" stroke="#808080" stroke-width="1"/>
<path d="M259.2,35.4 H277.5" stroke="#ff0000" stroke-width="2.2" fill="none"/>
<text x="279.8" y="38.60" class="ls" font-size="9.4" letter-spacing="0.25" fill="#000"><tspan font-style="italic">α</tspan><tspan dx="0.7">=</tspan><tspan dx="0.8">0</tspan></text>
<path d="M259.2,56.4 H277.5" stroke="#0000ff" stroke-width="2.2" fill="none"/>
<text x="279.8" y="59.60" class="ls" font-size="9.4" letter-spacing="0.25" fill="#000"><tspan font-style="italic">α</tspan><tspan dx="0.7">=</tspan><tspan dx="0.8">0.02</tspan></text>
<path d="M259.2,77.0 H277.5" stroke="#ff00ff" stroke-width="2.2" fill="none"/>
<text x="279.8" y="80.20" class="ls" font-size="9.4" letter-spacing="0.25" fill="#000"><tspan font-style="italic">α</tspan><tspan dx="0.7">=</tspan><tspan dx="0.8">0.04</tspan></text>
<path d="M259.2,97.6 H277.5" stroke="#00ff00" stroke-width="2.2" fill="none"/>
<text x="279.8" y="100.80" class="ls" font-size="9.4" letter-spacing="0.25" fill="#000"><tspan font-style="italic">α</tspan><tspan dx="0.7">=</tspan><tspan dx="0.8">0.06</tspan></text>
</svg>
</body></html>
